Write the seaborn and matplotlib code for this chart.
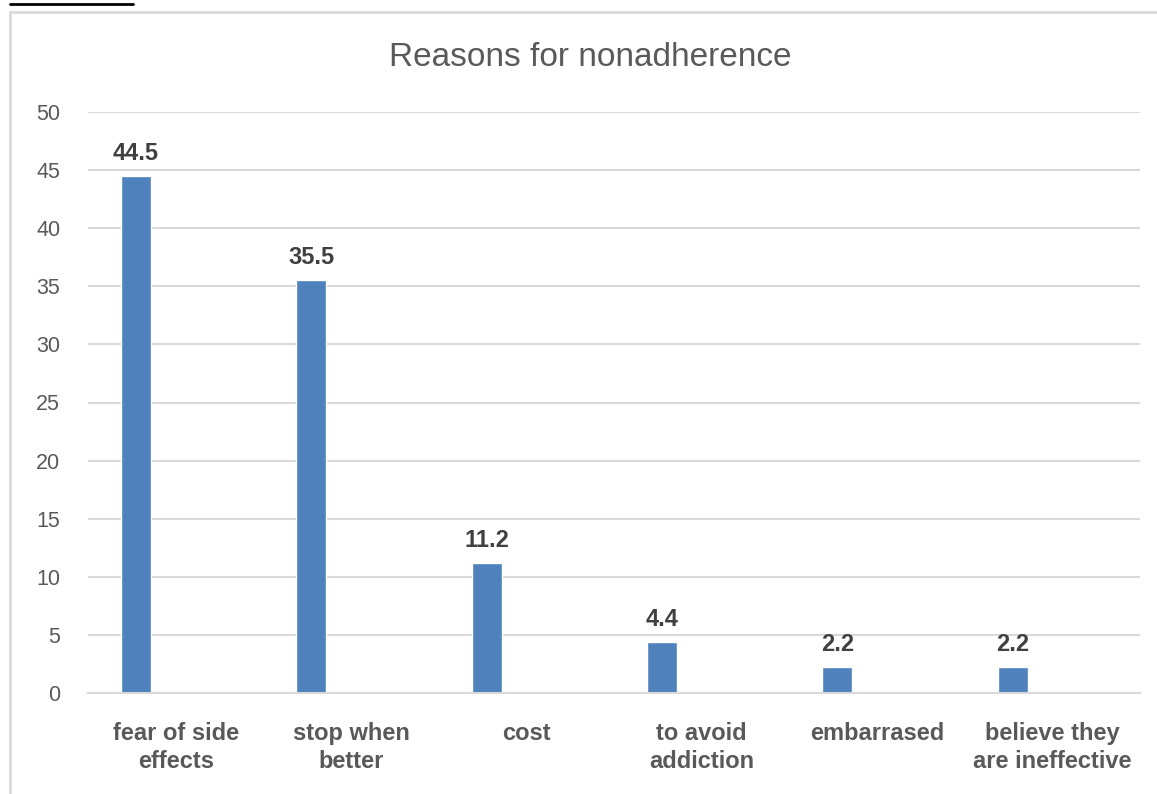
import pandas as pd
import matplotlib.pyplot as plt
import seaborn as sns
from matplotlib.patches import Rectangle
from matplotlib.lines import Line2D

# Chart data
reasons = ["fear of side\neffects", "stop when\nbetter", "cost",
           "to avoid\naddiction", "embarrased", "believe they\nare ineffective"]
percentages = [44.5, 35.5, 11.2, 4.4, 2.2, 2.2]
y_ticks = [0, 5, 10, 15, 20, 25, 30, 35, 40, 45, 50]

# Excel clustered layout: one filled series, two empty slots beside it
series_order = ["pct", "empty1", "empty2"]

df = pd.DataFrame({"Reason": reasons, "Value": percentages, "Series": "pct"})

sns.set_style("white")
plt.rcParams["font.family"] = ["Liberation Sans", "DejaVu Sans"]

fig = plt.figure(figsize=(11.57, 7.94), dpi=100)
ax = fig.add_axes([88 / 1157, 1 - 693 / 794, (1140 - 88) / 1157, (693 - 112) / 794])

sns.barplot(data=df, x="Reason", y="Value", hue="Series", hue_order=series_order,
            palette=["#4f81bd", "#c0504d", "#9bbb59"], width=0.678, gap=0.24,
            dodge=True, legend=False, ax=ax, errorbar=None, saturation=1)

for container in ax.containers:
    ax.bar_label(container, fmt="%.1f", padding=8, fontsize=17,
                 fontweight="bold", color="#404040")

ax.set_ylim(0, 50)
ax.set_yticks(y_ticks)
ax.set_xlim(-0.5, len(reasons) - 0.5)
ax.set_xlabel("")
ax.set_ylabel("")
ax.yaxis.grid(True, color="#d9d9d9", linewidth=1.5)
ax.set_axisbelow(True)
for side in ["top", "right", "left"]:
    ax.spines[side].set_visible(False)
ax.spines["bottom"].set_color("#d9d9d9")
ax.spines["bottom"].set_linewidth(1.5)
ax.tick_params(axis="y", length=0, pad=20, labelsize=15.5, labelcolor="#595959")
ax.tick_params(axis="x", length=0, pad=21, labelsize=17, labelcolor="#595959")
for lab in ax.get_xticklabels():
    lab.set_fontweight("bold")
    lab.set_linespacing(1.25)

fig.text(590 / 1157, 1 - 57 / 794, "Reasons for nonadherence", ha="center",
         va="center", fontsize=24, color="#595959")

# chart area border and the cut-off caption underline
fig.patches.append(Rectangle((10 / 1157, -0.05), 1.1, 1 - 12 / 794 + 0.05,
                             transform=fig.transFigure, fill=False,
                             edgecolor="#d9d9d9", linewidth=2))
fig.lines.append(Line2D([10 / 1157, 133 / 1157], [1 - 4 / 794, 1 - 4 / 794],
                        transform=fig.transFigure, color="black", linewidth=2))

fig.savefig("out.png", dpi=100)
